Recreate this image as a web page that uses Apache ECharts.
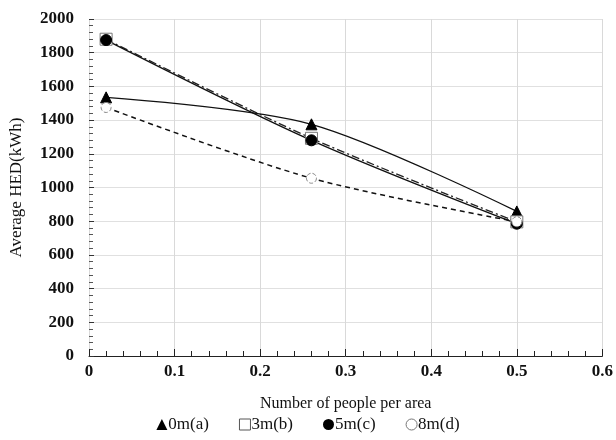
<!DOCTYPE html>
<html><head><meta charset="utf-8">
<script src="https://cdn.jsdelivr.net/npm/echarts@6/dist/echarts.min.js"></script>
<style>html,body{margin:0;padding:0;background:#fff}#c{width:616px;height:440px}</style>
</head><body><div id="c"></div>
<script>
var xValues = [0.02, 0.26, 0.5];
var seriesNames = ['0m(a)', '3m(b)', '5m(c)', '8m(d)'];
var s0m = [1535, 1375, 858];
var s3m = [1880, 1292, 796];
var s5m = [1875, 1280, 785];
var s8m = [1475, 1055, 797];
var xTitle = 'Number of people per area';
var yTitle = 'Average HED(kWh)';

function pts(v){ return xValues.map(function(x,i){ return [x, v[i]]; }); }
var serif = '"Liberation Serif", "DejaVu Serif", serif';
var chart = echarts.init(document.getElementById('c'));
chart.setOption({
  animation: false,
  backgroundColor: '#fff',
  grid: {left: 88, right: 11, top: 19, bottom: 84},
  xAxis: {
    type: 'value', min: 0, max: 0.6, interval: 0.1,
    name: xTitle, nameLocation: 'middle', nameGap: 40,
    nameTextStyle: {fontFamily: serif, fontSize: 16, color: '#111'},
    axisLine: {show: true, onZero: false, lineStyle: {color: '#222', width: 1}},
    axisTick: {show: true, inside: true, length: 7, lineStyle: {color: '#222'}},
    minorTick: {show: true, splitNumber: 5, length: 5, lineStyle: {color: '#222'}},
    axisLabel: {fontFamily: serif, fontSize: 17, fontWeight: 'bold', color: '#111', margin: 7,
      formatter: function(v){ return String(Math.round(v*10)/10); }},
    splitLine: {show: true, lineStyle: {color: '#d9d9d9', width: 1}}
  },
  yAxis: {
    type: 'value', min: 0, max: 2000, interval: 200,
    name: yTitle, nameLocation: 'middle', nameGap: 64,
    nameTextStyle: {fontFamily: serif, fontSize: 17, color: '#111'},
    axisLine: {show: false},
    axisTick: {show: true, inside: true, length: 5, lineStyle: {color: '#333'}},
    minorTick: {show: true, splitNumber: 5, length: 4, lineStyle: {color: '#555'}},
    axisLabel: {fontFamily: serif, fontSize: 17, fontWeight: 'bold', color: '#111', margin: 15,
      formatter: function(v){ return String(v); }},
    splitLine: {show: true, lineStyle: {color: '#e0e0e0', width: 1}}
  },
  legend: {
    bottom: 2, left: 'center', itemGap: 30, itemWidth: 11, itemHeight: 11,
    textStyle: {fontFamily: serif, fontSize: 17, color: '#111', padding: [0,0,0,-4]},
    data: [
      {name: seriesNames[0], icon: 'triangle', itemStyle: {color: '#000'}},
      {name: seriesNames[1], icon: 'rect', itemStyle: {color: '#fff', borderColor: '#555', borderWidth: 1}},
      {name: seriesNames[2], icon: 'circle', itemStyle: {color: '#000'}},
      {name: seriesNames[3], icon: 'circle', itemStyle: {color: '#fff', borderColor: '#777', borderWidth: 1}}
    ]
  },
  series: [
    {name: seriesNames[0], type: 'line', data: pts(s0m), smooth: 0.3,
     symbol: 'triangle', symbolSize: 11,
     itemStyle: {color: '#000', borderColor: '#000'},
     lineStyle: {color: '#111', width: 1.3, type: 'solid'}},
    {name: seriesNames[1], type: 'line', data: pts(s3m), smooth: 0.3,
     symbol: 'rect', symbolSize: 12,
     itemStyle: {color: '#fff', borderColor: '#777', borderWidth: 1},
     lineStyle: {color: '#222', width: 1.3, type: [8,3,2,3]}},
    {name: seriesNames[2], type: 'line', data: pts(s5m), smooth: 0.3,
     symbol: 'circle', symbolSize: 11,
     itemStyle: {color: '#000', borderColor: '#000'},
     lineStyle: {color: '#111', width: 1.3, type: 'solid'}},
    {name: seriesNames[3], type: 'line', data: pts(s8m), smooth: 0.3,
     symbol: 'circle', symbolSize: 10,
     itemStyle: {color: '#fff', borderColor: '#888', borderWidth: 1, borderType: 'dashed'},
     lineStyle: {color: '#111', width: 1.5, type: [5,4]}}
  ]
});
</script></body></html>
